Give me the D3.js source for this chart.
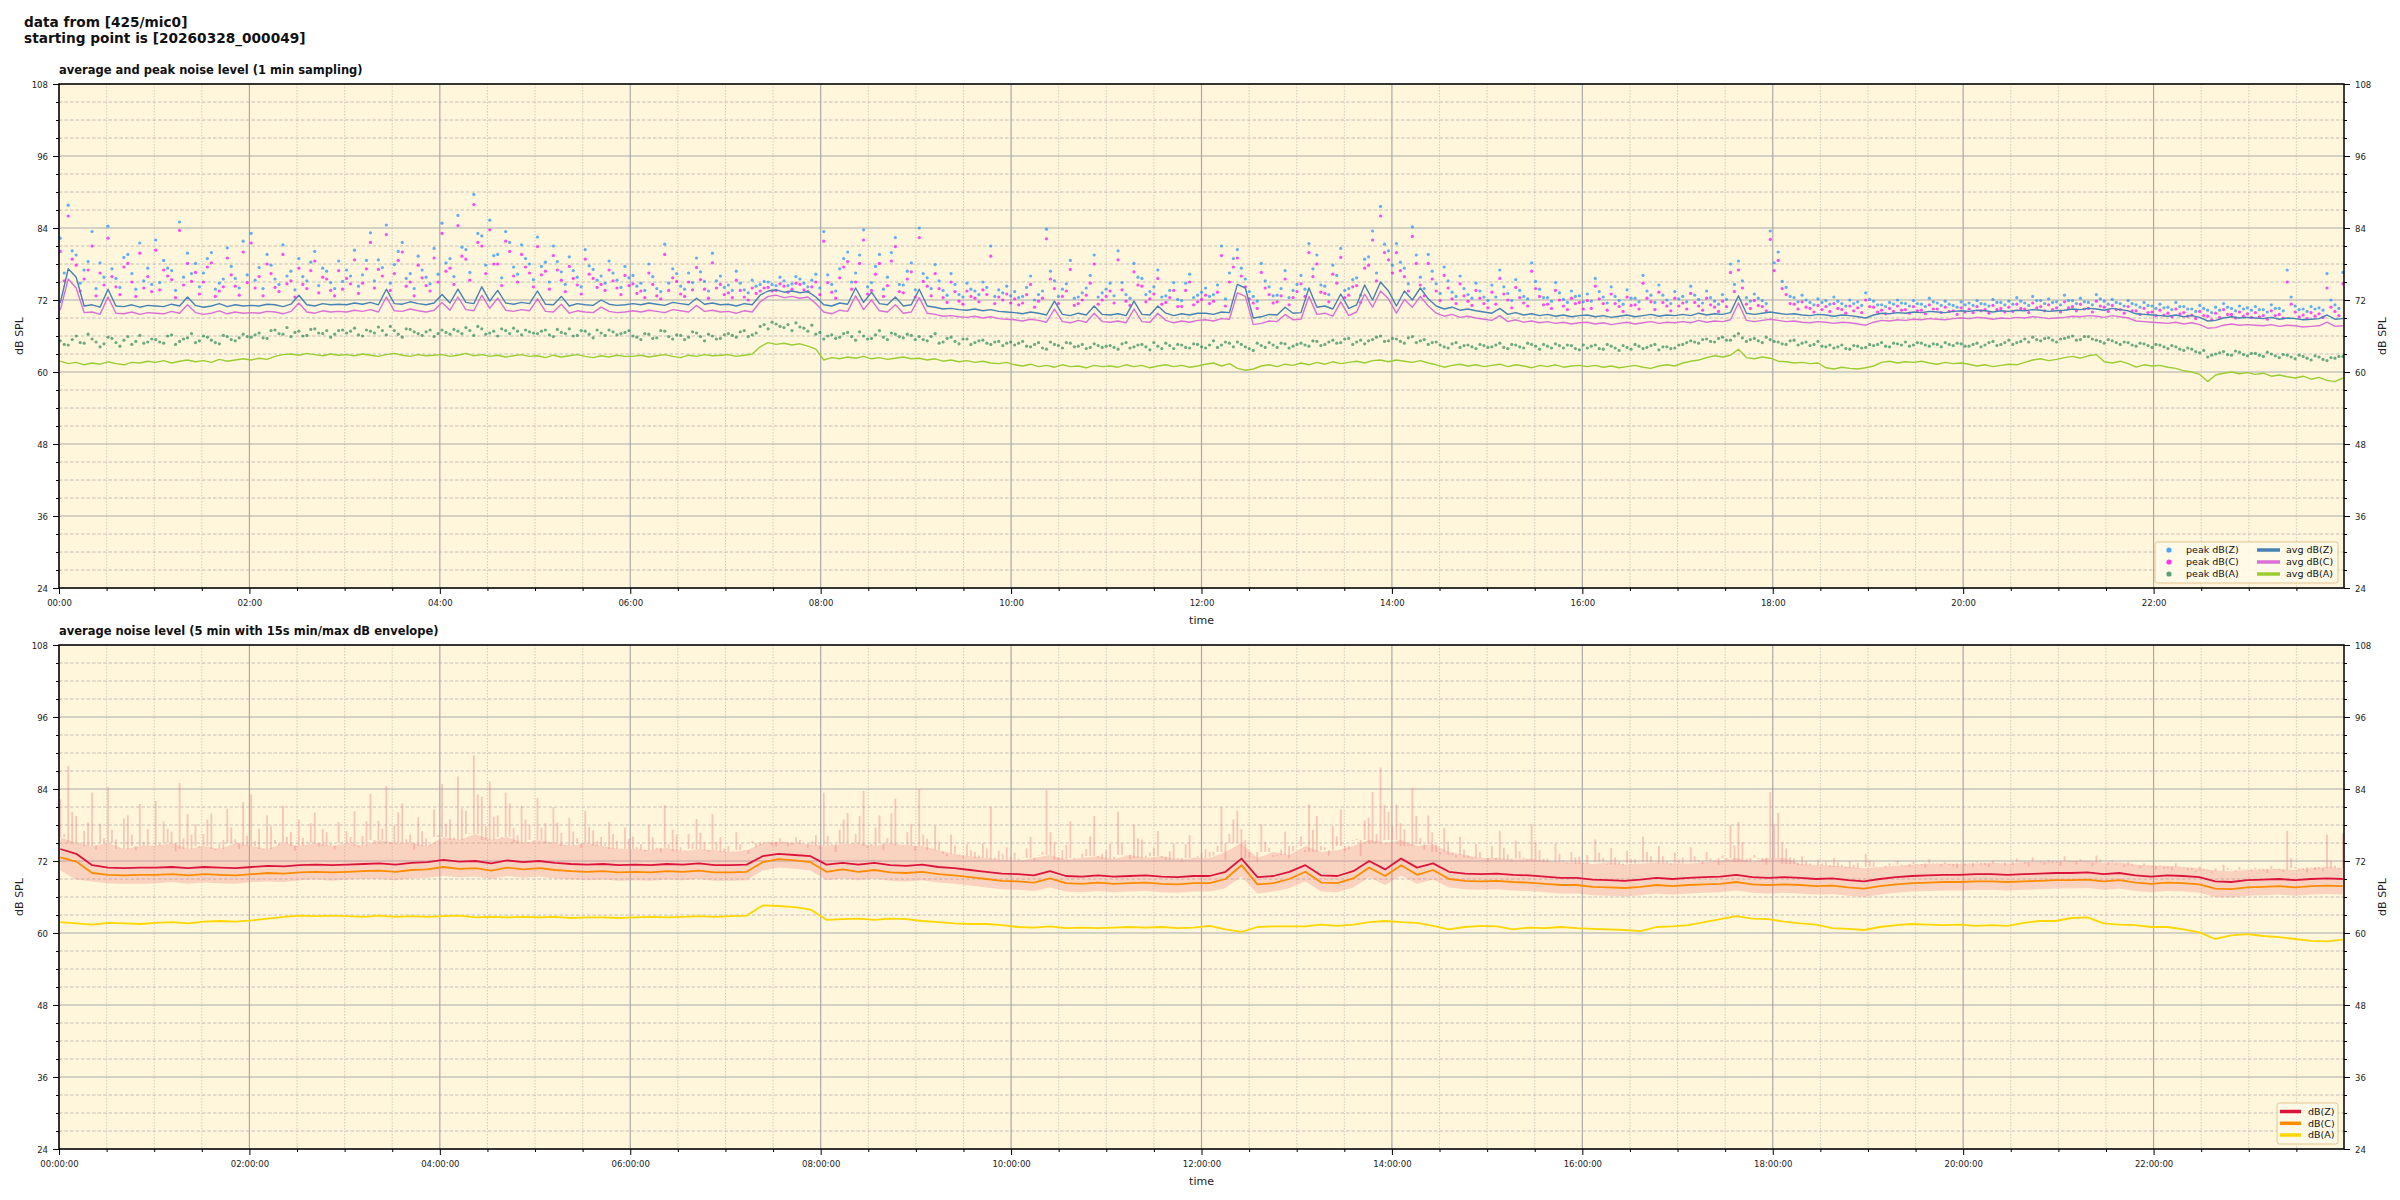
<!DOCTYPE html>
<html><head><meta charset="utf-8">
<script src="https://cdn.jsdelivr.net/npm/d3@7"></script>
<style>
body{margin:0;background:#fff;}
svg text{font-family:"DejaVu Sans",sans-serif;}
</style></head><body>
<svg id="chart" width="2400" height="1200"></svg>
<script>
// ---------- data (top panel: one value every 5 min, one row per hour) ----------
const avgZ = [
71.5,77.2,75.8,71.0,71.2,70.8,73.8,71.0,70.9,71.2,70.8,71.1,
71.0,70.9,71.3,71.0,72.5,71.1,70.8,71.0,71.4,70.9,71.2,71.0,
71.1,71.0,71.3,71.2,70.9,71.3,72.8,71.2,71.0,71.4,71.2,71.3,
71.2,71.5,71.3,71.6,71.2,73.8,71.4,71.3,71.7,71.4,71.2,71.5,
72.9,71.5,73.8,71.6,71.4,74.2,71.8,73.6,71.5,71.3,71.6,71.4,
73.5,71.3,71.2,72.6,71.0,71.4,71.2,71.1,72.0,71.3,71.1,71.2,
71.4,71.2,71.5,71.3,71.1,71.6,71.4,71.2,72.3,71.3,71.5,71.2,
71.3,71.0,71.4,71.2,72.8,73.5,73.7,73.3,73.5,73.2,73.4,72.5,
71.2,71.0,71.5,71.3,74.0,71.6,73.3,71.4,71.2,72.5,71.0,71.2,
73.8,71.0,70.8,70.5,70.6,70.4,70.3,70.5,70.2,70.4,70.1,70.0,
69.9,69.7,70.0,69.8,69.5,71.8,69.6,69.4,69.8,69.5,71.0,69.6,
69.5,69.7,69.4,71.8,69.6,69.5,71.0,69.8,69.4,69.7,69.5,69.8,
69.8,69.6,70.0,69.9,74.6,74.0,69.0,69.2,69.6,69.5,70.8,69.8,
69.9,74.0,70.8,71.0,70.5,73.0,70.6,71.2,74.5,72.0,75.0,73.5,
71.0,73.5,72.0,74.0,72.2,71.0,70.5,70.8,70.3,70.5,70.2,70.0,
69.8,70.6,69.6,69.9,69.5,69.7,69.4,69.6,69.3,69.5,69.2,69.4,
69.5,69.2,69.4,69.1,69.3,69.5,69.2,69.4,69.6,69.3,69.5,69.4,
69.6,69.4,69.8,69.5,69.7,69.6,69.9,72.7,69.8,69.6,69.8,70.0,
69.8,69.6,69.7,69.5,69.4,69.6,69.5,69.3,69.5,69.4,69.2,69.0,
69.5,69.8,69.7,69.9,69.8,70.0,69.9,70.1,70.0,69.9,70.1,70.2,
70.1,70.3,70.2,70.0,70.2,70.1,70.3,70.2,70.4,70.3,70.1,70.2,
70.3,70.5,70.4,70.6,70.5,70.3,70.6,70.4,70.2,69.7,69.6,69.5,
69.4,69.3,69.5,69.2,69.4,69.1,68.5,68.6,69.0,69.2,69.0,69.1,
69.0,68.9,69.1,68.8,69.0,68.9,68.7,68.8,68.9,69.5,68.8,68.9];
const avgC = [
70.3,75.5,74.0,69.9,70.0,69.6,72.5,69.8,69.7,70.0,69.6,69.9,
69.8,69.7,70.1,69.8,71.2,69.9,69.6,69.8,70.2,69.7,70.0,69.8,
69.9,69.8,70.1,70.0,69.7,70.1,71.5,70.0,69.8,70.2,70.0,70.1,
70.0,70.3,70.1,70.4,70.0,72.5,70.2,70.1,70.5,70.2,70.0,70.3,
71.6,70.3,72.5,70.4,70.2,72.8,70.6,72.3,70.3,70.1,70.4,70.2,
72.2,70.1,70.0,71.3,69.8,70.2,70.0,69.9,70.8,70.1,69.9,70.0,
70.2,70.0,70.3,70.1,69.9,70.4,70.2,70.0,71.1,70.1,70.3,70.0,
70.1,69.8,70.2,70.0,71.7,72.6,72.8,72.4,72.6,72.3,72.5,71.4,
70.0,69.7,70.3,70.1,72.7,70.4,72.0,70.2,70.0,71.2,69.8,70.0,
72.4,69.8,69.6,69.3,69.4,69.2,69.1,69.3,69.0,69.2,68.9,68.8,
68.7,68.5,68.8,68.6,68.3,70.5,68.4,68.2,68.6,68.3,69.8,68.4,
68.3,68.5,68.2,70.5,68.4,68.3,69.8,68.6,68.2,68.5,68.3,68.6,
68.7,68.5,68.9,68.8,73.2,72.6,67.9,68.1,68.5,68.4,69.6,68.7,
68.8,72.6,69.6,69.8,69.3,71.7,69.4,70.0,73.0,70.8,73.5,72.2,
69.8,72.1,70.8,72.6,71.0,69.8,69.3,69.6,69.1,69.3,69.0,68.8,
68.6,69.4,68.4,68.7,68.3,68.5,68.2,68.4,68.1,68.3,68.0,68.2,
68.3,68.0,68.2,67.9,68.1,68.3,68.0,68.2,68.4,68.1,68.3,68.2,
68.4,68.2,68.6,68.3,68.5,68.4,68.7,71.5,68.6,68.4,68.6,68.8,
68.6,68.4,68.5,68.3,68.2,68.4,68.3,68.1,68.3,68.2,68.0,67.8,
68.3,68.6,68.5,68.7,68.6,68.8,68.7,68.9,68.8,68.7,68.9,69.0,
68.9,69.1,69.0,68.8,69.0,68.9,69.1,69.0,69.2,69.1,68.9,69.0,
69.1,69.3,69.2,69.4,69.3,69.1,69.4,69.2,69.0,68.5,68.4,68.3,
68.2,68.1,68.3,68.0,68.2,67.9,67.3,67.4,67.8,68.0,67.8,67.9,
67.8,67.7,67.9,67.6,67.8,67.7,67.5,67.6,67.7,68.3,67.6,67.7];
const avgA = [
61.8,61.4,61.6,61.2,61.5,61.3,61.7,61.4,61.2,61.6,61.5,61.8,
61.6,61.9,61.5,61.8,62.0,61.7,61.9,61.6,62.1,61.8,62.0,62.2,
62.0,62.3,62.1,62.6,62.9,63.0,62.8,63.1,62.9,62.7,63.0,62.8,
62.9,62.7,63.0,62.8,62.6,62.9,63.1,62.8,62.6,62.9,62.7,62.8,
62.9,62.6,62.8,63.1,62.7,62.9,62.6,62.8,62.5,62.7,62.9,62.6,
62.7,62.4,62.8,62.5,62.7,62.9,62.6,62.4,62.7,62.5,62.8,62.6,
62.6,62.8,62.5,62.7,62.9,62.6,62.4,62.8,62.6,62.9,62.7,62.8,
62.9,62.6,62.8,63.0,64.2,64.9,64.6,64.8,64.5,64.7,64.3,63.8,
62.0,62.4,62.2,62.5,62.3,62.6,62.2,62.4,62.1,62.3,62.5,62.2,
62.3,62.0,62.2,61.8,62.0,61.7,61.9,61.6,61.8,61.5,61.4,61.6,
61.2,61.0,61.3,60.9,61.1,60.8,61.2,60.9,61.0,60.7,61.1,60.9,
61.0,60.8,61.2,60.9,61.1,60.7,61.0,61.2,60.9,61.1,60.8,61.0,
61.3,61.5,61.0,61.4,60.6,60.3,60.5,61.0,61.2,60.9,61.3,61.1,
61.5,61.2,61.6,61.3,61.7,61.4,61.6,61.8,61.5,61.9,62.0,61.7,
62.0,61.8,61.6,61.9,61.5,61.2,60.8,61.1,61.3,61.0,61.2,60.9,
61.1,61.3,60.9,61.2,61.0,60.7,61.1,60.9,61.2,60.8,61.0,61.1,
60.9,61.1,60.8,61.0,60.7,60.9,61.1,60.8,60.6,61.0,61.2,61.0,
61.5,61.8,62.0,62.4,62.7,62.5,62.8,63.8,62.4,62.2,62.5,62.3,
61.8,61.7,61.5,61.6,61.4,61.5,60.7,60.5,60.8,60.6,60.5,60.7,
61.0,61.6,61.8,61.5,61.7,61.6,61.8,61.5,61.3,61.6,61.4,61.5,
61.3,61.0,61.2,60.9,61.1,61.3,61.2,61.6,62.0,62.2,61.9,62.1,
62.4,62.6,62.3,62.7,62.9,61.7,61.5,61.8,61.4,60.8,61.2,61.0,
61.1,60.8,60.6,60.2,60.0,59.6,58.4,59.5,59.8,60.0,59.7,59.9,
59.6,59.8,59.3,59.5,59.2,59.0,59.3,58.8,59.1,58.6,58.4,59.0];
// peak readings at the full 5-min marks
const peakZ = [
82.3,87.8,79.5,77.0,83.4,78.2,84.3,75.6,79.1,76.4,81.5,77.3,
82.0,78.6,76.9,85.0,79.8,78.1,76.5,79.9,74.8,80.7,75.6,81.8,
83.1,77.4,79.6,75.5,81.2,76.8,78.9,75.2,80.1,77.3,74.9,78.5,
77.0,80.3,76.2,83.2,78.7,84.5,77.9,81.6,76.4,79.3,75.8,80.6,
84.8,78.9,86.1,80.4,89.6,82.7,85.3,79.6,83.4,77.5,81.2,78.0,
82.5,78.3,81.0,76.7,79.2,75.8,80.4,77.1,76.0,78.5,75.3,77.6,
76.1,74.8,78.0,73.9,81.3,77.2,74.3,76.5,79.0,75.1,79.8,76.0,
74.5,76.8,73.7,75.3,74.6,75.0,74.4,75.2,74.7,75.5,74.2,76.3,
83.4,74.6,77.2,80.0,76.5,83.7,74.9,79.6,75.8,82.4,74.5,78.2,
84.0,75.7,77.9,73.6,76.4,72.9,74.8,73.5,75.0,81.0,73.7,74.3,
73.4,72.6,76.0,72.9,83.8,75.2,73.8,78.6,72.5,74.0,79.5,73.2,
74.8,80.2,72.9,78.1,75.6,73.4,77.0,72.7,74.9,71.9,76.3,72.8,
74.0,72.9,81.0,76.5,80.4,75.5,72.6,78.1,74.2,72.8,76.9,73.6,
76.1,81.4,79.5,74.3,77.8,80.6,73.9,75.7,78.8,83.5,87.6,80.2,
81.4,77.3,84.2,75.8,79.6,74.7,77.5,73.3,76.0,72.9,74.8,72.5,
74.5,77.0,73.1,75.4,72.6,78.2,73.8,72.4,74.9,72.1,73.5,72.7,
73.0,75.6,72.5,74.2,71.9,73.7,72.3,76.1,72.8,74.5,72.0,73.4,
72.6,74.3,72.1,73.5,71.8,72.9,78.0,78.5,72.4,73.0,71.9,83.5,
80.0,74.1,72.4,72.8,71.6,72.2,71.9,72.5,71.4,72.0,71.7,73.2,
71.8,71.2,71.6,72.0,71.4,71.9,71.3,72.3,71.5,71.8,71.1,71.7,
71.5,71.9,71.3,72.1,71.6,71.8,72.4,71.5,72.6,71.9,72.2,71.7,
72.8,71.9,72.3,71.6,72.9,71.8,72.1,71.4,71.9,71.2,71.6,71.0,
71.3,70.8,71.6,70.9,70.5,71.1,70.3,70.8,71.4,70.6,71.0,70.7,
70.9,70.4,71.2,70.6,77.0,71.0,70.5,70.9,70.7,76.4,71.2,76.6];
const peakC = [
80.1,86.0,77.8,75.5,81.0,76.5,82.3,74.2,77.5,75.0,79.8,75.9,
80.3,77.0,75.4,83.6,78.1,76.6,75.0,78.2,73.5,79.0,74.3,80.0,
81.5,75.9,78.0,74.1,79.6,75.2,77.3,73.9,78.5,75.8,73.6,76.9,
75.6,78.7,74.8,81.6,77.1,82.9,76.4,80.0,75.0,77.8,74.4,79.0,
83.1,77.3,84.4,78.8,87.9,81.0,83.7,78.0,81.8,76.0,79.6,76.5,
80.9,76.8,79.4,75.3,77.6,74.5,78.8,75.6,74.6,77.0,74.0,76.1,
74.7,73.5,76.5,72.7,79.6,75.7,73.0,75.0,77.4,73.8,78.2,74.6,
73.2,75.3,72.5,74.0,73.5,74.1,73.6,74.3,73.8,74.6,73.4,75.0,
81.8,73.3,75.7,78.4,75.0,82.0,73.6,78.1,74.4,80.9,73.2,76.7,
82.4,74.3,76.4,72.4,75.0,71.8,73.5,72.3,73.7,79.3,72.5,73.0,
72.2,71.5,74.6,71.8,82.2,73.9,72.6,77.1,71.4,72.8,78.0,72.0,
73.5,78.7,71.8,76.7,74.3,72.2,75.6,71.6,73.6,70.9,75.0,71.7,
72.8,71.8,79.4,75.0,79.0,74.2,71.5,76.6,72.9,71.7,75.5,72.4,
74.7,79.9,78.0,73.1,76.3,79.1,72.8,74.4,77.3,82.0,86.0,78.7,
79.9,75.9,82.6,74.5,78.1,73.5,76.1,72.2,74.7,71.8,73.6,71.4,
73.3,75.6,72.0,74.1,71.5,76.8,72.6,71.3,73.6,71.0,72.3,71.6,
71.9,74.3,71.4,73.0,70.9,72.5,71.2,74.8,71.7,73.3,71.0,72.3,
71.5,73.1,71.0,72.3,70.8,71.8,76.6,77.0,71.3,71.9,70.9,82.1,
78.6,72.9,71.3,71.7,70.6,71.1,70.9,71.4,70.4,71.0,70.7,72.0,
70.8,70.3,70.6,71.0,70.4,70.9,70.3,71.2,70.5,70.8,70.2,70.7,
70.5,70.9,70.4,71.1,70.6,70.8,71.3,70.5,71.5,70.9,71.2,70.7,
71.7,70.9,71.3,70.6,71.8,70.8,71.1,70.4,70.9,70.2,70.6,70.0,
70.3,69.8,70.5,69.9,69.5,70.1,69.3,69.8,70.4,69.6,70.0,69.7,
69.9,69.4,70.2,69.6,75.0,70.0,69.5,69.9,69.7,74.0,70.1,74.7];
const peakA = [
65.2,64.5,66.0,64.8,65.5,64.2,65.8,64.9,65.3,64.6,66.1,65.0,
65.4,64.8,66.2,65.1,65.7,64.9,66.0,65.3,64.7,65.9,65.2,66.3,
65.8,66.5,65.6,67.0,66.3,65.9,66.8,66.1,67.2,66.4,65.8,66.9,
66.5,67.3,66.0,66.8,67.5,66.2,66.9,65.8,67.1,66.4,66.7,65.9,
67.0,66.3,66.8,67.4,66.1,67.2,66.5,66.0,66.9,67.3,66.2,66.7,
66.4,67.0,65.9,66.6,67.2,66.1,66.8,65.7,66.5,67.0,66.2,66.6,
66.0,65.4,66.3,65.7,66.8,65.5,66.1,65.8,66.5,65.2,66.0,65.6,
66.4,65.8,66.9,66.2,67.6,67.2,68.0,67.4,66.9,67.5,66.8,66.3,
65.5,66.2,65.8,66.6,65.3,66.0,65.6,66.9,65.4,66.3,65.7,66.1,
65.9,65.2,66.4,65.0,65.8,64.7,65.5,64.9,65.3,64.6,65.1,64.8,
64.5,65.1,64.2,64.9,63.8,64.6,64.0,64.8,64.3,63.9,64.7,64.1,
64.4,63.8,64.9,64.2,64.6,63.7,64.3,64.8,63.9,64.5,64.0,64.6,
64.0,65.2,64.5,64.8,65.0,64.2,63.6,64.4,64.9,64.1,64.7,64.3,
64.8,64.3,65.1,64.6,65.3,64.9,65.6,65.0,64.7,65.4,66.0,65.2,
65.5,64.8,65.9,65.2,64.6,65.0,64.2,64.7,64.1,64.5,63.9,64.4,
64.2,64.8,63.9,64.5,64.0,64.6,63.8,64.3,64.7,64.0,64.4,63.7,
64.0,64.5,63.8,64.3,63.6,64.1,64.6,63.9,64.4,63.7,64.2,64.0,
64.6,65.2,64.8,65.5,65.0,65.8,65.3,66.4,65.1,65.6,64.9,65.4,
65.0,64.6,65.3,64.8,64.4,65.1,64.2,64.0,64.5,63.8,64.3,64.1,
64.4,64.9,64.2,64.7,65.0,64.5,64.8,64.3,64.6,64.9,64.4,64.7,
64.3,64.8,64.5,65.1,64.6,65.3,64.9,65.5,65.8,65.2,65.7,65.0,
65.6,66.0,65.4,65.9,65.3,64.8,65.2,64.6,64.9,64.3,64.7,64.1,
64.5,63.9,64.2,63.6,63.8,63.2,62.5,63.0,63.4,62.8,63.3,62.7,
63.1,62.6,63.0,62.4,62.8,62.2,62.6,62.0,62.5,61.9,62.3,62.6];
// peak readings between the 5-min marks (2.5 min later)
const peakZb = [
76.5,80.2,74.8,78.4,73.9,75.8,77.2,74.1,79.6,73.8,75.2,74.6,
74.9,77.3,73.6,75.8,76.4,74.2,78.9,73.8,75.5,77.6,74.0,76.2,
75.3,73.9,77.8,74.6,76.0,73.7,75.9,78.3,74.4,76.8,73.9,75.1,
76.0,74.3,78.6,75.2,77.4,74.8,80.1,75.6,73.9,77.0,74.7,76.3,
78.2,75.9,80.8,76.6,83.1,77.8,79.4,75.7,81.6,76.3,78.9,75.4,
77.6,75.0,78.4,74.6,76.9,74.2,77.7,75.3,74.8,76.5,74.1,75.7,
74.3,73.6,75.9,73.4,74.8,76.4,73.8,74.9,76.7,73.5,75.2,74.1,
73.6,74.8,73.2,74.3,75.1,74.6,75.8,74.4,75.9,74.8,75.3,74.0,
76.2,73.5,78.9,75.0,79.5,74.2,77.6,73.8,79.9,74.6,76.8,73.7,
76.4,73.9,75.2,72.8,74.6,72.5,73.8,72.9,74.1,72.6,73.2,72.7,
72.4,74.1,72.0,73.5,76.8,72.6,74.7,72.3,73.2,76.1,72.5,73.8,
72.7,74.9,72.3,75.8,72.9,74.2,72.5,73.6,72.1,74.8,72.4,73.3,
72.6,74.5,72.2,78.9,77.3,73.4,71.8,75.2,72.7,73.9,72.4,74.6,
73.8,77.2,74.5,72.9,76.1,73.6,75.4,72.8,79.2,76.5,81.3,77.8,
78.3,74.7,79.5,73.9,76.8,73.1,75.2,72.6,73.9,72.3,73.5,71.9,
72.5,74.2,71.9,73.6,72.2,75.1,72.4,71.8,73.2,71.6,72.6,71.7,
71.8,73.4,71.5,72.6,71.3,72.3,71.7,73.5,71.6,72.8,71.4,72.2,
71.7,72.8,71.5,72.4,71.3,72.1,74.6,75.2,71.8,72.3,71.4,78.2,
75.1,72.6,71.7,72.0,71.2,71.6,71.3,71.8,71.0,71.4,71.1,72.1,
71.2,70.9,71.3,71.5,71.0,71.4,70.9,71.7,71.1,71.3,70.8,71.2,
71.1,71.4,71.0,71.6,71.2,71.3,71.8,71.1,71.9,71.4,71.6,71.2,
71.9,71.4,71.7,71.2,72.2,71.3,71.6,71.0,71.4,70.8,71.1,70.6,
70.7,70.4,70.9,70.5,70.1,70.6,69.9,70.3,70.8,70.2,70.5,70.3,
70.4,70.0,70.6,70.2,72.5,70.4,70.1,70.5,70.3,72.0,70.6,71.5];
const peakCb = [
75.2,78.8,73.5,77.0,72.7,74.5,75.9,72.9,78.1,72.6,74.0,73.4,
73.7,76.0,72.4,74.5,75.1,73.0,77.5,72.6,74.2,76.2,72.8,74.9,
74.0,72.7,76.4,73.4,74.7,72.5,74.6,76.9,73.2,75.5,72.7,73.8,
74.7,73.1,77.2,74.0,76.0,73.6,78.6,74.3,72.7,75.7,73.5,75.0,
76.8,74.6,79.3,75.3,81.6,76.4,78.0,74.4,80.1,75.0,77.5,74.2,
76.2,73.8,77.0,73.4,75.6,73.0,76.3,74.1,73.6,75.2,72.9,74.4,
73.1,72.4,74.6,72.2,73.6,75.1,72.6,73.7,75.4,72.3,74.0,72.9,
72.4,73.6,72.0,73.1,74.0,73.5,74.7,73.3,74.8,73.7,74.2,72.9,
74.9,72.3,77.5,73.8,78.1,73.0,76.3,72.6,78.5,73.4,75.5,72.5,
75.1,72.7,73.9,71.6,73.4,71.3,72.6,71.7,72.9,71.4,72.0,71.5,
71.2,72.9,70.8,72.3,75.5,71.4,73.5,71.1,72.0,74.8,71.3,72.6,
71.5,73.7,71.1,74.5,71.7,73.0,71.3,72.4,70.9,73.6,71.2,72.1,
71.4,73.3,71.0,77.5,76.0,72.2,70.6,74.0,71.5,72.7,71.2,73.4,
72.6,75.9,73.3,71.7,74.8,72.4,74.2,71.6,77.8,75.2,79.9,76.5,
76.9,73.5,78.1,72.7,75.5,71.9,74.0,71.4,72.7,71.1,72.3,70.7,
71.3,73.0,70.7,72.4,71.0,73.9,71.2,70.6,72.0,70.4,71.4,70.5,
70.6,72.2,70.3,71.4,70.1,71.1,70.5,72.3,70.4,71.6,70.2,71.0,
70.5,71.6,70.3,71.2,70.1,70.9,73.4,74.0,70.6,71.1,70.2,76.9,
73.9,71.4,70.5,70.8,70.0,70.4,70.1,70.6,69.8,70.2,69.9,70.9,
70.0,69.7,70.1,70.3,69.8,70.2,69.7,70.5,69.9,70.1,69.6,70.0,
69.9,70.2,69.8,70.4,70.0,70.1,70.6,69.9,70.7,70.2,70.4,70.0,
70.7,70.2,70.5,70.0,71.0,70.1,70.4,69.8,70.2,69.6,69.9,69.4,
69.5,69.2,69.7,69.3,68.9,69.4,68.7,69.1,69.6,69.0,69.3,69.1,
69.2,68.8,69.4,69.0,71.3,69.2,68.9,69.3,69.1,70.8,69.4,70.3];
const peakAb = [
64.6,65.4,64.9,66.3,65.0,64.7,65.6,64.3,65.9,65.1,64.8,65.5,
65.0,66.0,64.6,65.5,66.4,65.2,65.8,64.9,66.1,65.4,65.7,65.9,
66.2,65.7,66.9,66.4,67.4,66.6,66.0,67.1,66.5,66.9,66.3,67.0,
66.8,66.2,67.0,66.5,66.9,67.6,66.3,67.2,66.7,66.1,67.0,66.4,
66.6,67.1,66.4,66.9,67.6,66.3,66.8,67.2,66.4,66.8,67.0,66.5,
66.8,66.2,67.1,66.4,66.0,66.9,66.3,67.0,66.1,66.7,66.4,66.9,
65.8,66.4,65.6,66.9,65.9,66.2,65.4,66.7,65.9,66.3,65.5,66.2,
66.1,66.7,65.9,66.5,67.9,68.3,67.6,67.9,68.2,67.3,67.8,66.6,
66.0,65.6,66.4,65.9,66.7,65.5,66.2,65.8,66.5,65.9,66.3,65.4,
65.4,65.9,64.8,65.6,65.1,65.5,64.6,65.2,64.8,65.0,64.4,65.0,
64.8,64.3,64.6,64.0,65.0,64.4,64.9,64.2,64.6,64.1,64.4,64.3,
64.1,64.7,64.0,64.5,64.2,64.9,63.9,64.4,64.6,64.1,64.7,64.2,
64.5,64.1,65.0,64.2,64.6,63.9,64.8,64.1,64.5,64.8,64.0,64.6,
64.5,65.2,64.4,65.0,64.8,65.5,64.6,65.3,65.2,65.8,65.1,65.6,
65.1,65.7,64.9,65.4,64.9,64.5,64.0,64.9,64.4,64.2,64.6,64.1,
64.5,64.1,64.6,64.2,64.8,64.3,64.6,64.0,64.4,64.5,63.9,64.5,
64.3,63.9,64.6,64.0,64.4,63.8,64.3,64.1,64.6,64.2,63.9,64.5,
64.9,65.0,65.4,65.1,65.6,65.3,66.0,65.7,65.4,65.2,65.8,65.1,
64.7,65.2,64.5,65.0,64.6,64.3,64.5,64.2,63.9,64.4,64.0,64.6,
64.6,64.3,64.8,64.5,64.3,64.9,64.5,64.7,64.2,64.6,64.8,64.3,
64.6,64.2,64.9,64.4,64.9,64.6,65.1,65.0,65.4,65.6,65.3,65.5,
65.8,65.3,65.9,65.5,65.1,65.4,64.9,65.0,64.5,64.8,64.4,64.6,
64.2,64.4,63.8,64.0,63.4,63.6,62.8,63.2,62.9,63.5,62.9,63.1,
62.8,63.3,62.7,62.9,62.5,62.8,62.3,62.7,62.1,62.4,62.6,62.2];

// ---------- data (bottom panel: 5-min averages read every 10 min) ----------
const dbZ = [
74.0,73.2,71.3,70.9,70.8,70.9, 70.9,71.0,70.8,71.0,70.9,70.8,
71.0,71.2,71.1,71.3,71.4,71.3, 71.4,71.5,71.6,71.4,71.7,71.8,
72.2,71.9,72.0,71.6,72.1,71.8, 72.0,71.7,71.5,71.4,71.5,71.3,
71.4,71.3,71.5,71.4,71.6,71.3, 71.3,71.4,72.8,73.2,73.0,72.8,
71.4,71.7,71.4,71.7,71.3,71.2, 71.4,71.0,70.8,70.5,70.2,69.9,
69.8,69.6,70.3,69.5,69.4,69.6, 69.4,69.5,69.6,69.4,69.3,69.5,
69.5,70.2,72.4,69.3,69.5,70.2, 71.3,69.6,69.5,70.3,72.0,70.6,
72.4,70.9,71.6,70.2,69.9,69.8, 69.9,69.7,69.6,69.4,69.2,69.2,
68.9,68.8,68.7,68.9,69.2,69.0, 69.2,69.3,69.4,69.7,69.3,69.2,
69.3,69.2,69.0,69.1,68.8,68.6, 69.0,69.3,69.5,69.6,69.7,69.7,
69.8,69.8,69.7,69.8,69.9,70.0, 70.0,70.1,69.8,70.0,69.6,69.4,
69.6,69.5,69.3,68.6,68.5,68.8, 68.9,69.0,68.8,69.0,69.1,69.0];
const dbC = [
72.6,71.9,70.0,69.7,69.6,69.7, 69.7,69.8,69.6,69.8,69.7,69.6,
69.8,70.0,69.9,70.1,70.2,70.1, 70.2,70.3,70.4,70.2,70.5,70.6,
71.0,70.7,70.8,70.4,70.9,70.6, 70.8,70.5,70.3,70.2,70.3,70.1,
70.2,70.1,70.3,70.2,70.4,70.1, 70.1,70.2,71.8,72.3,72.1,71.8,
70.2,70.6,70.2,70.5,70.1,70.0, 70.2,69.8,69.6,69.3,69.0,68.7,
68.6,68.4,69.1,68.3,68.2,68.4, 68.2,68.3,68.4,68.2,68.1,68.3,
68.3,69.0,71.3,68.1,68.3,69.0, 70.2,68.4,68.3,69.1,70.9,69.5,
71.3,69.7,70.5,69.0,68.7,68.6, 68.7,68.5,68.4,68.2,68.0,68.0,
67.7,67.6,67.5,67.7,68.0,67.8, 68.0,68.1,68.2,68.5,68.1,68.0,
68.1,68.0,67.8,67.9,67.6,67.4, 67.8,68.1,68.3,68.4,68.5,68.5,
68.6,68.6,68.5,68.6,68.7,68.8, 68.8,68.9,68.6,68.8,68.4,68.2,
68.4,68.3,68.1,67.4,67.3,67.6, 67.7,67.8,67.6,67.8,67.9,67.8];
const dbA = [
61.8,61.6,61.4,61.7,61.6,61.5, 61.7,61.8,61.6,61.9,62.0,61.9,
62.1,62.4,62.7,62.9,62.8,62.9, 62.8,62.7,62.9,62.7,62.8,62.7,
62.8,62.9,62.6,62.7,62.6,62.7, 62.6,62.7,62.5,62.6,62.6,62.5,
62.6,62.7,62.6,62.7,62.8,62.7, 62.8,62.9,64.6,64.5,64.3,63.9,
62.2,62.3,62.4,62.2,62.4,62.3, 62.0,61.8,61.6,61.5,61.5,61.3,
61.0,60.9,61.1,60.8,60.9,60.8, 60.9,61.0,60.9,61.0,60.8,60.9,
61.2,60.6,60.2,61.0,61.1,61.1, 61.1,61.4,61.2,61.4,61.8,62.0,
61.8,61.7,61.2,60.6,61.0,61.2, 61.1,60.6,60.9,60.8,61.0,60.8,
60.7,60.6,60.5,60.3,61.0,61.1, 61.3,61.8,62.3,62.8,62.4,62.3,
61.9,61.6,61.4,60.8,60.7,60.5, 61.0,61.3,61.5,61.4,61.3,61.4,
61.2,61.3,61.2,61.7,62.0,62.0, 62.5,62.6,61.6,61.4,61.3,61.0,
61.0,60.6,60.1,59.0,59.6,59.8, 59.5,59.3,59.0,58.7,58.6,58.9];
// 15 s min/max envelope: dense band every 10 min, isolated maxima = peak readings
const envMin = [
70.4,68.9,68.6,68.3,68.2,68.2, 68.3,68.5,68.2,68.4,68.3,68.2,
68.5,68.6,68.5,68.8,68.9,68.7, 68.9,69.0,69.0,68.8,69.1,69.2,
69.5,69.3,69.4,69.0,69.5,69.2, 69.4,69.1,68.9,68.8,68.9,68.7,
68.8,68.7,68.9,68.8,69.0,68.7, 68.7,68.8,70.4,70.9,70.7,70.4,
68.8,69.1,68.8,69.1,68.7,68.6, 68.8,68.4,68.2,67.9,67.6,67.3,
67.2,67.0,67.6,66.9,66.8,67.0, 66.8,66.9,67.0,66.8,66.7,66.9,
66.9,67.5,69.4,66.6,66.9,67.5, 68.6,66.9,66.8,67.6,69.3,68.0,
69.6,68.2,68.9,67.6,67.3,67.2, 67.3,67.1,67.0,66.8,66.6,66.6,
66.3,66.2,66.1,66.3,66.6,66.4, 66.6,66.7,66.8,67.1,66.7,66.6,
66.7,66.6,66.4,66.5,66.2,66.0, 66.4,66.7,66.9,67.0,67.1,67.1,
67.2,67.2,67.1,67.2,67.3,67.4, 67.4,67.5,67.2,67.4,67.0,66.8,
67.0,66.9,66.7,66.0,65.9,66.2, 66.3,66.4,66.2,66.4,66.5,66.4];
const envHi = [
76.0,75.0,74.5,75.0,74.0,74.5, 74.5,75.0,74.0,74.5,74.0,75.0,
74.5,74.0,75.0,74.5,75.0,74.5, 75.0,74.5,75.5,75.0,75.0,74.5,
76.0,75.5,76.5,75.5,76.0,75.0, 75.5,75.0,74.5,75.0,74.5,74.0,
74.0,73.8,74.2,73.6,74.0,73.8, 73.5,73.8,75.0,75.2,75.0,74.8,
74.5,74.8,75.0,74.5,75.0,74.6, 74.5,73.8,73.2,72.8,72.5,72.2,
72.0,72.5,73.0,72.2,72.5,72.8, 72.3,73.0,72.5,72.8,72.2,72.5,
72.5,73.5,75.0,72.5,73.5,73.0, 74.5,73.5,73.8,74.5,75.5,75.0,
75.5,74.5,74.8,73.5,73.0,72.5, 72.5,72.2,72.4,72.0,71.8,71.8,
71.5,71.8,71.4,71.6,71.8,71.6, 71.6,71.8,72.0,72.5,71.8,72.5,
72.5,71.5,71.3,71.2,71.0,70.8, 71.0,71.2,71.4,71.5,71.6,71.5,
71.6,71.7,71.6,71.8,71.9,71.8, 72.0,72.0,71.7,71.8,71.4,71.2,
71.2,71.0,70.8,70.4,70.3,70.5, 70.6,70.7,70.5,70.8,71.0,70.8];

const yTicks = [24,36,48,60,72,84,96,108];
const hourTicks = [0,2,4,6,8,10,12,14,16,18,20,22];

// ---------- layout ----------
const svg = d3.select("#chart");
const L = 59, R = 2344;
const x = d3.scaleLinear().domain([0,1440]).range([L,R]);
const panels = [
  {top:84, bottom:588, title:"average and peak noise level (1 min sampling)", fmt:h=>String(h).padStart(2,"0")+":00"},
  {top:645, bottom:1149, title:"average noise level (5 min with 15s min/max dB envelope)", fmt:h=>String(h).padStart(2,"0")+":00:00"}
];
const BG = "#fff6dc";
const tickFont = "'DejaVu Sans Condensed','DejaVu Sans',sans-serif";

svg.append("rect").attr("width",2400).attr("height",1200).attr("fill","#ffffff");
svg.append("text").attr("x",24).attr("y",26.5).attr("font-size","13.7px").attr("font-weight","bold").attr("fill","#111").text("data from [425/mic0]");
svg.append("text").attr("x",24).attr("y",42.5).attr("font-size","13.7px").attr("font-weight","bold").attr("fill","#111").text("starting point is [20260328_000049]");

function styleAxis(g){
  g.selectAll("text").attr("font-family",tickFont).attr("font-size","9.5px").attr("font-stretch","condensed").attr("fill","#222");
  g.selectAll("line").attr("stroke","#000").attr("stroke-width",1);
  g.select(".domain").remove();
}

panels.forEach((p,pi)=>{
  const y = d3.scaleLinear().domain([24,108]).range([p.bottom,p.top]);
  p.y = y;
  const g = svg.append("g");
  g.append("rect").attr("x",L).attr("y",p.top).attr("width",R-L).attr("height",p.bottom-p.top).attr("fill",BG);
  const minorY = d3.range(24,109,3).filter(v=>v%12!==0);
  const minorX = d3.range(0,1441,30).filter(m=>m%120!==0);
  const grid = g.append("g");
  grid.selectAll(".mx").data(minorX).join("line")
    .attr("x1",d=>x(d)).attr("x2",d=>x(d)).attr("y1",p.top).attr("y2",p.bottom)
    .attr("stroke","#c9c3b6").attr("stroke-width",0.8).attr("stroke-dasharray","1.5,1.5");
  grid.selectAll(".my").data(minorY).join("line")
    .attr("x1",L).attr("x2",R).attr("y1",d=>y(d)).attr("y2",d=>y(d))
    .attr("stroke","#bdb9b0").attr("stroke-width",0.9).attr("stroke-dasharray","3.5,2");
  grid.selectAll(".Mx").data(hourTicks.map(h=>h*60)).join("line")
    .attr("x1",d=>x(d)).attr("x2",d=>x(d)).attr("y1",p.top).attr("y2",p.bottom)
    .attr("stroke","#a9a9a9").attr("stroke-width",1.2);
  grid.selectAll(".My").data(yTicks).join("line")
    .attr("x1",L).attr("x2",R).attr("y1",d=>y(d)).attr("y2",d=>y(d))
    .attr("stroke","#a9a9a9").attr("stroke-width",1.2);

  const ax = [
    g.append("g").attr("transform",`translate(${L},0)`).call(d3.axisLeft(y).tickValues(yTicks).tickSize(6).tickPadding(5).tickFormat(d3.format("d"))),
    g.append("g").attr("transform",`translate(${L},0)`).call(d3.axisLeft(y).tickValues(minorY).tickSize(3).tickFormat("")),
    g.append("g").attr("transform",`translate(${R},0)`).call(d3.axisRight(y).tickValues(yTicks).tickSize(6).tickPadding(5).tickFormat(d3.format("d"))),
    g.append("g").attr("transform",`translate(${R},0)`).call(d3.axisRight(y).tickValues(minorY).tickSize(3).tickFormat("")),
    g.append("g").attr("transform",`translate(0,${p.bottom})`).call(d3.axisBottom(x).tickValues(hourTicks.map(h=>h*60)).tickSize(6).tickPadding(5).tickFormat(m=>p.fmt(m/60))),
    g.append("g").attr("transform",`translate(0,${p.bottom})`).call(d3.axisBottom(x).tickValues(minorX).tickSize(3).tickFormat(""))
  ];
  ax.forEach(styleAxis);

  svg.append("clipPath").attr("id","clip"+pi).append("rect").attr("x",L).attr("y",p.top).attr("width",R-L).attr("height",p.bottom-p.top);
  p.layer = svg.append("g").attr("clip-path",`url(#clip${pi})`);

  g.append("text").attr("x",L).attr("y",p.top-10).attr("font-size","11.5px").attr("font-weight","bold").attr("fill","#111").text(p.title);
  g.append("text").attr("x",(L+R)/2).attr("y",p.bottom+36).attr("text-anchor","middle").attr("font-size","11px").attr("fill","#222").text("time");
  g.append("text").attr("transform",`translate(22.5,${(p.top+p.bottom)/2}) rotate(-90)`).attr("text-anchor","middle").attr("font-size","11px").attr("fill","#222").text("dB SPL");
  g.append("text").attr("transform",`translate(2385.5,${(p.top+p.bottom)/2}) rotate(-90)`).attr("text-anchor","middle").attr("font-size","11px").attr("fill","#222").text("dB SPL");
});

// readings are spread evenly over the recorded day (00:00:49 .. 23:59)
const tOf = n => (i => 0.8 + i*(1438.5/(n-1)));
const t5 = tOf(288);
const t5b = i => t5(i) + 2.5;
const t10 = tOf(144);

// ---------- top panel marks ----------
const P0 = panels[0], y0 = P0.y;
[[peakA,t5,"#2e8b57"],[peakAb,t5b,"#2e8b57"],[peakC,t5,"#ff00ff"],[peakCb,t5b,"#ff00ff"],[peakZ,t5,"#1e90ff"],[peakZb,t5b,"#1e90ff"]].forEach(([arr,tf,col])=>{
  P0.layer.append("g").selectAll("circle").data(arr).join("circle")
    .attr("cx",(d,i)=>x(tf(i))).attr("cy",d=>y0(d)).attr("r",1.6)
    .attr("fill",col).attr("fill-opacity",0.7);
});
const line5 = d3.line().x((d,i)=>x(t5(i))).y(d=>y0(d));
[[avgA,"#9acd32"],[avgC,"#da70d6"],[avgZ,"#4682b4"]].forEach(([arr,col])=>{
  P0.layer.append("path").datum(arr).attr("d",line5).attr("fill","none").attr("stroke",col).attr("stroke-width",1.4).attr("stroke-linejoin","round");
});

// ---------- bottom panel marks ----------
const P1 = panels[1], y1 = P1.y;
const band = d3.area().x((d,i)=>x(t10(i))).y0((d,i)=>y1(envMin[i])).y1(d=>y1(d));
P1.layer.append("path").datum(envHi).attr("d",band).attr("fill","#f08080").attr("fill-opacity",0.3);
const spikes = P1.layer.append("g").attr("stroke","#f08080").attr("stroke-opacity",0.42).attr("stroke-width",1.8);
[[peakZ,t5],[peakZb,t5b]].forEach(([arr,tf])=>{
  spikes.selectAll(null).data(arr).join("line")
    .attr("x1",(d,i)=>x(tf(i))).attr("x2",(d,i)=>x(tf(i)))
    .attr("y1",(d,i)=>y1(envHi[Math.min(143,Math.round(tf(i)/10))]))
    .attr("y2",d=>y1(d));
});
const line10 = d3.line().x((d,i)=>x(t10(i))).y(d=>y1(d));
[[dbA,"#ffd700"],[dbC,"#ff8c00"],[dbZ,"#dc143c"]].forEach(([arr,col])=>{
  P1.layer.append("path").datum(arr).attr("d",line10).attr("fill","none").attr("stroke",col).attr("stroke-width",1.8).attr("stroke-linejoin","round");
});

// ---------- legends ----------
function legendBox(x0,yy,w,h){
  svg.append("rect").attr("x",x0).attr("y",yy).attr("width",w).attr("height",h).attr("rx",2.5)
    .attr("fill","#fff9e8").attr("fill-opacity",0.9).attr("stroke","#e2c590").attr("stroke-width",1);
}
legendBox(2155,542,183,41);
const legRows = [550,562,574];
[["peak dB(Z)","#1e90ff"],["peak dB(C)","#ff00ff"],["peak dB(A)","#2e8b57"]].forEach(([t,c],i)=>{
  svg.append("circle").attr("cx",2169).attr("cy",legRows[i]).attr("r",2.6).attr("fill",c).attr("fill-opacity",0.8);
  svg.append("text").attr("x",2186).attr("y",legRows[i]).attr("dy","0.35em").attr("font-size","9.5px").attr("fill","#111").text(t);
});
[["avg dB(Z)","#4682b4"],["avg dB(C)","#da70d6"],["avg dB(A)","#9acd32"]].forEach(([t,c],i)=>{
  svg.append("line").attr("x1",2257).attr("x2",2280).attr("y1",legRows[i]).attr("y2",legRows[i]).attr("stroke",c).attr("stroke-width",3.5);
  svg.append("text").attr("x",2286).attr("y",legRows[i]).attr("dy","0.35em").attr("font-size","9.5px").attr("fill","#111").text(t);
});
legendBox(2277,1103,61,41);
const legRows2 = [1111.5,1123.3,1135];
[["dB(Z)","#dc143c"],["dB(C)","#ff8c00"],["dB(A)","#ffd700"]].forEach(([t,c],i)=>{
  svg.append("line").attr("x1",2280).attr("x2",2301).attr("y1",legRows2[i]).attr("y2",legRows2[i]).attr("stroke",c).attr("stroke-width",3.5);
  svg.append("text").attr("x",2308).attr("y",legRows2[i]).attr("dy","0.35em").attr("font-size","9.5px").attr("fill","#111").text(t);
});
panels.forEach(p=>{
  svg.append("rect").attr("x",L).attr("y",p.top).attr("width",R-L).attr("height",p.bottom-p.top)
    .attr("fill","none").attr("stroke","#000").attr("stroke-width",1.5);
});
</script>
</body></html>
